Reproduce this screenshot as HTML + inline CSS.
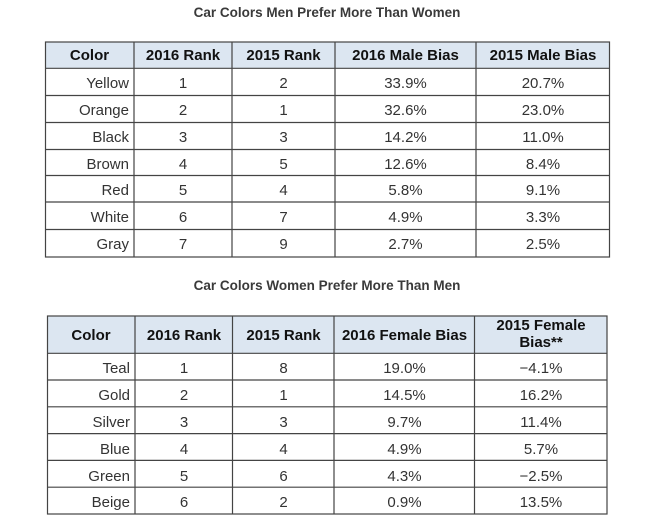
<!DOCTYPE html>
<html>
<head>
<meta charset="utf-8">
<style>
html,body{margin:0;padding:0;background:#fff;}
svg{display:block;}
.t{font-family:"Liberation Sans",Arial,sans-serif;font-size:13.5px;font-weight:bold;fill:#3a3a3a;}
.h{font-family:"Liberation Sans",Arial,sans-serif;font-size:15px;font-weight:bold;fill:#111;}
.b{font-family:"Liberation Sans",Arial,sans-serif;font-size:15px;fill:#333;}
</style>
</head>
<body>
<svg width="672" height="522" viewBox="0 0 672 522" xmlns="http://www.w3.org/2000/svg">
<rect width="672" height="522" fill="#fff"/>
<!-- Titles -->
<text class="t" x="327" y="17" text-anchor="middle">Car Colors Men Prefer More Than Women</text>
<text class="t" x="327" y="290" text-anchor="middle">Car Colors Women Prefer More Than Men</text>

<!-- Table 1 -->
<rect x="45.5" y="42" width="564" height="26" fill="#dce6f1"/>
<g stroke="#444" stroke-width="1.2" fill="none">
<rect x="45.5" y="42" width="564" height="215"/>
<line x1="134" y1="42" x2="134" y2="257"/>
<line x1="232" y1="42" x2="232" y2="257"/>
<line x1="335" y1="42" x2="335" y2="257"/>
<line x1="476" y1="42" x2="476" y2="257"/>
<line x1="45.5" y1="68.3" x2="609.5" y2="68.3"/>
<line x1="45.5" y1="95.5" x2="609.5" y2="95.5"/>
<line x1="45.5" y1="122.5" x2="609.5" y2="122.5"/>
<line x1="45.5" y1="149.5" x2="609.5" y2="149.5"/>
<line x1="45.5" y1="175.5" x2="609.5" y2="175.5"/>
<line x1="45.5" y1="202" x2="609.5" y2="202"/>
<line x1="45.5" y1="229.5" x2="609.5" y2="229.5"/>
</g>
<g class="h" text-anchor="middle">
<text x="89.5" y="60">Color</text>
<text x="183" y="60">2016 Rank</text>
<text x="283.5" y="60">2015 Rank</text>
<text x="405.5" y="60">2016 Male Bias</text>
<text x="543" y="60">2015 Male Bias</text>
</g>
<g class="b">
<g text-anchor="end">
<text x="129" y="88">Yellow</text>
<text x="129" y="115">Orange</text>
<text x="129" y="142">Black</text>
<text x="129" y="169">Brown</text>
<text x="129" y="195">Red</text>
<text x="129" y="222">White</text>
<text x="129" y="249">Gray</text>
</g>
<g text-anchor="middle">
<text x="183" y="88">1</text><text x="283.5" y="88">2</text><text x="405.5" y="88">33.9%</text><text x="543" y="88">20.7%</text>
<text x="183" y="115">2</text><text x="283.5" y="115">1</text><text x="405.5" y="115">32.6%</text><text x="543" y="115">23.0%</text>
<text x="183" y="142">3</text><text x="283.5" y="142">3</text><text x="405.5" y="142">14.2%</text><text x="543" y="142">11.0%</text>
<text x="183" y="169">4</text><text x="283.5" y="169">5</text><text x="405.5" y="169">12.6%</text><text x="543" y="169">8.4%</text>
<text x="183" y="195">5</text><text x="283.5" y="195">4</text><text x="405.5" y="195">5.8%</text><text x="543" y="195">9.1%</text>
<text x="183" y="222">6</text><text x="283.5" y="222">7</text><text x="405.5" y="222">4.9%</text><text x="543" y="222">3.3%</text>
<text x="183" y="249">7</text><text x="283.5" y="249">9</text><text x="405.5" y="249">2.7%</text><text x="543" y="249">2.5%</text>
</g>
</g>

<!-- Table 2 -->
<rect x="47.5" y="316" width="559.5" height="37" fill="#dce6f1"/>
<g stroke="#444" stroke-width="1.2" fill="none">
<rect x="47.5" y="316" width="559.5" height="198"/>
<line x1="135" y1="316" x2="135" y2="514"/>
<line x1="232.5" y1="316" x2="232.5" y2="514"/>
<line x1="334" y1="316" x2="334" y2="514"/>
<line x1="474.5" y1="316" x2="474.5" y2="514"/>
<line x1="47.5" y1="353.3" x2="607" y2="353.3"/>
<line x1="47.5" y1="380" x2="607" y2="380"/>
<line x1="47.5" y1="406.8" x2="607" y2="406.8"/>
<line x1="47.5" y1="433.6" x2="607" y2="433.6"/>
<line x1="47.5" y1="460.4" x2="607" y2="460.4"/>
<line x1="47.5" y1="487.2" x2="607" y2="487.2"/>
</g>
<g class="h" text-anchor="middle">
<text x="91" y="340">Color</text>
<text x="184" y="340">2016 Rank</text>
<text x="283.5" y="340">2015 Rank</text>
<text x="404.5" y="340">2016 Female Bias</text>
<text x="541" y="330">2015 Female</text>
<text x="541" y="347">Bias**</text>
</g>
<g class="b">
<g text-anchor="end">
<text x="130" y="373">Teal</text>
<text x="130" y="400">Gold</text>
<text x="130" y="427">Silver</text>
<text x="130" y="454">Blue</text>
<text x="130" y="481">Green</text>
<text x="130" y="507">Beige</text>
</g>
<g text-anchor="middle">
<text x="184" y="373">1</text><text x="283.5" y="373">8</text><text x="404.5" y="373">19.0%</text><text x="541" y="373">−4.1%</text>
<text x="184" y="400">2</text><text x="283.5" y="400">1</text><text x="404.5" y="400">14.5%</text><text x="541" y="400">16.2%</text>
<text x="184" y="427">3</text><text x="283.5" y="427">3</text><text x="404.5" y="427">9.7%</text><text x="541" y="427">11.4%</text>
<text x="184" y="454">4</text><text x="283.5" y="454">4</text><text x="404.5" y="454">4.9%</text><text x="541" y="454">5.7%</text>
<text x="184" y="481">5</text><text x="283.5" y="481">6</text><text x="404.5" y="481">4.3%</text><text x="541" y="481">−2.5%</text>
<text x="184" y="507">6</text><text x="283.5" y="507">2</text><text x="404.5" y="507">0.9%</text><text x="541" y="507">13.5%</text>
</g>
</g>
</svg>
</body>
</html>
